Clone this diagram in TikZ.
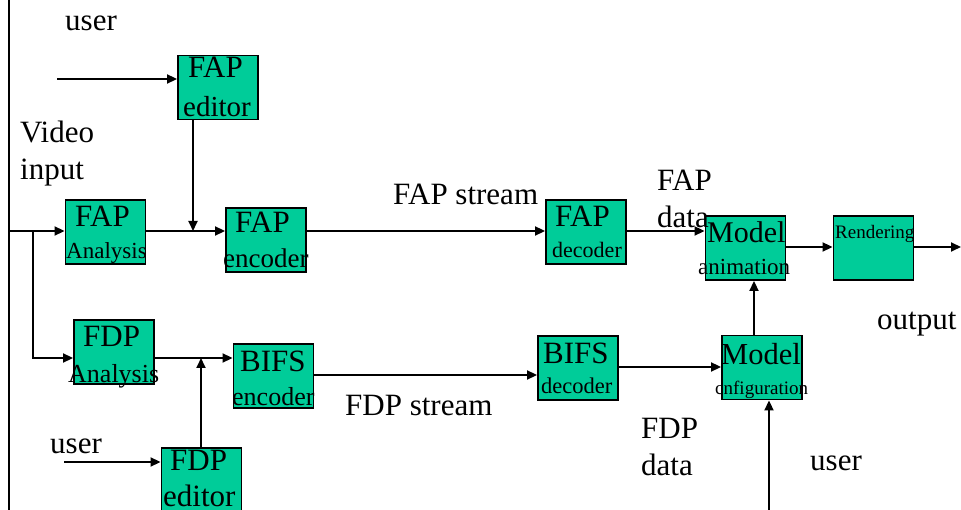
\documentclass[tikz,border=0pt]{standalone}
\usepackage{fontspec}
\setmainfont{Liberation Serif}
\usetikzlibrary{arrows.meta}
\definecolor{boxgreen}{RGB}{0,204,153}
\tikzset{
  box/.style={draw=black, line width=1.9pt, fill=boxgreen, inner sep=0pt, minimum width=80pt, minimum height=64pt},
  conn/.style={line width=1.9pt, draw=black},
  arr/.style={conn, -{Triangle[length=10pt,width=9pt]}},
  txt/.style={anchor=base west, inner sep=0pt, font=\fontsize{#1}{#1}\selectfont},
  txt/.default=31
}
\begin{document}
\begin{tikzpicture}[x=1pt,y=-1pt]
\useasboundingbox (0,0) rectangle (961,510);
% boxes
\node[box] (fapedit) at (218,87.5) {};
\node[box] (fapana) at (105.5,232) {};
\node[box] (fapenc) at (266,240) {};
\node[box] (fapdec) at (586,232) {};
\node[box] (fdpana) at (114,352) {};
\node[box] (fdpedit) at (201.5,480) {};
\node[box] (bifsenc) at (273.5,376) {};
\node[box] (bifsdec) at (578,368) {};
\node[box] (modconf) at (762,367.5) {};
\node[box] (modanim) at (745.5,248) {};
\node[box] (render) at (873.5,248) {};
% coordinates
\coordinate (ltop) at (9,0);
\coordinate (lbot) at (9,510);
\coordinate (lin) at (9,231);
\coordinate (br) at (33,231);
\coordinate (u1) at (57,79);
\coordinate (j1) at (193,231);
\coordinate (j2) at (201,358);
\coordinate (u2) at (64,462);
\coordinate (j3) at (754,300);
\coordinate (u3) at (769,510);
\coordinate (out) at (961,247);
% connectors
\draw[conn] (ltop) -- (lbot);
\draw[arr] (lin) -- (lin -| fapana.west);
\draw[arr] (br) |- (fdpana.west |- j2);
\draw[arr] (u1) -- (u1 -| fapedit.west);
\draw[arr] (j1 |- fapedit.south) -- (j1);
\draw[arr] (fapana.east |- j1) -- (j1 -| fapenc.west);
\draw[arr] (fapenc.east |- j1) -- (j1 -| fapdec.west);
\draw[arr] (fapdec.east |- j1) -- (j1 -| modanim.west);
\draw[arr] (modanim.east |- out) -- (out -| render.west);
\draw[arr] (render.east |- out) -- (out);
\draw[arr] (fdpana.east |- j2) -- (j2 -| bifsenc.west);
\draw[arr] (j2 |- fdpedit.north) -- (j2);
\draw[arr] (u2) -- (u2 -| fdpedit.west);
\draw[arr] (bifsenc.east |- 0,375) -- (bifsdec.west |- 0,375);
\draw[arr] (bifsdec.east |- 0,367) -- (modconf.west |- 0,367);
\draw[arr] (j3 |- modconf.north) -- (j3 |- modanim.south);
\draw[arr] (u3) -- (u3 |- modconf.south);
% texts
\node[txt] (tuser1) at (65,31) {user};
\node[txt] (tvideo) at (20,143) {Video};
\node[txt] (tinput) at (20,180) {input};
\node[txt] (t1a) at (188,78) {FAP};
\node[txt=29] (t1b) at (183,117) {editor};
\node[txt] (t2a) at (75,227) {FAP};
\node[txt=23] (t2b) at (66,259) {Analysis};
\node[txt] (t3a) at (235,233) {FAP};
\node[txt=27] (t3b) at (223,268) {encoder};
\node[txt] (tfapstream) at (393,205) {FAP stream};
\node[txt] (t4a) at (555,227) {FAP};
\node[txt=22] (t4b) at (552,258) {decoder};
\node[txt] (tfapd1) at (657,191) {FAP};
\node[txt] (tfapd2) at (657,228) {data};
\node[txt=30] (t5a) at (707,243) {Model};
\node[txt=23] (t5b) at (698,275) {animation};
\node[txt=19] (t6) at (835,239) {Rendering};
\node[txt] (toutput) at (877,330) {output};
\node[txt] (t7a) at (83,347) {FDP};
\node[txt=26] (t7b) at (68,382) {Analysis};
\node[txt] (t8a) at (240,372) {BIFS};
\node[txt=26] (t8b) at (232,406) {encoder};
\node[txt] (tuser2) at (50,453) {user};
\node[txt] (t9a) at (170,470) {FDP};
\node[txt] (t9b) at (163,506) {editor};
\node[txt] (tfdpstream) at (345,415) {FDP stream};
\node[txt] (t10a) at (543,363) {BIFS};
\node[txt=22.5] (t10b) at (541,393) {decoder};
\node[txt=30.5] (t11a) at (721,365) {Model};
\node[txt=19] (t11b) at (715,395) {cnfiguration};
\node[txt] (tfdpd1) at (641,438) {FDP};
\node[txt] (tfdpd2) at (641,475) {data};
\node[txt] (tuser3) at (810,470) {user};
\end{tikzpicture}
\end{document}
